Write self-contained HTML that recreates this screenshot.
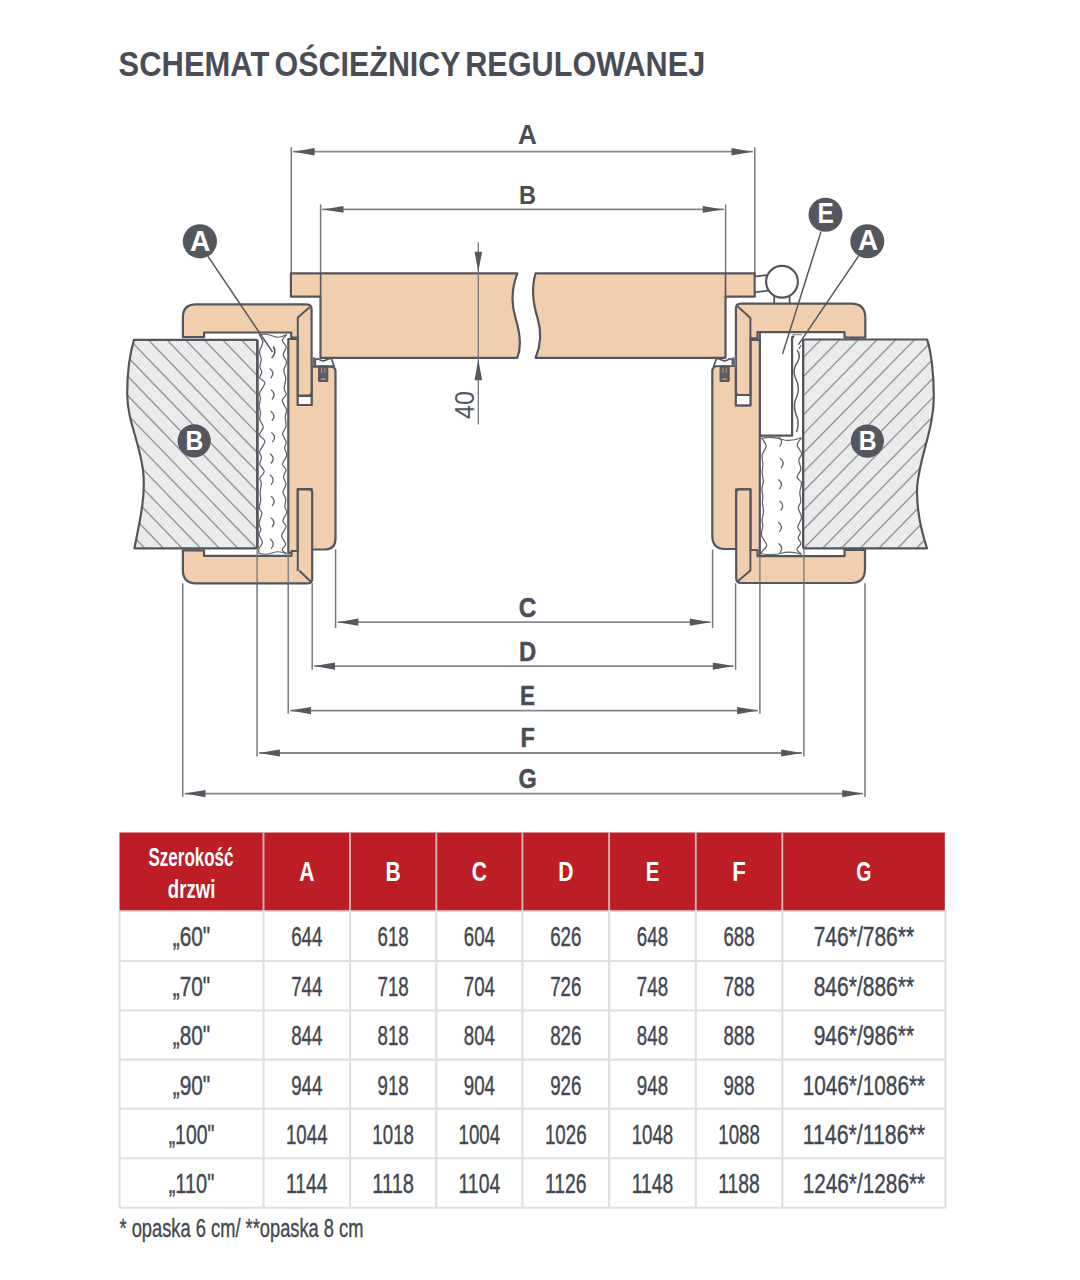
<!DOCTYPE html>
<html><head><meta charset="utf-8"><style>
html,body{margin:0;padding:0;background:#fff;}
body{width:1080px;height:1280px;overflow:hidden;}
svg{display:block;font-family:'Liberation Sans', sans-serif;}
</style></head><body>
<svg width="1080" height="1280" viewBox="0 0 1080 1280">
<text x="118.6" y="75.6" font-size="34.6" font-weight="bold" fill="#4a4d55" text-anchor="start" textLength="150.7" lengthAdjust="spacingAndGlyphs" >SCHEMAT</text>
<text x="274.6" y="75.6" font-size="34.6" font-weight="bold" fill="#4a4d55" text-anchor="start" textLength="186" lengthAdjust="spacingAndGlyphs" >OŚCIEŻNICY</text>
<text x="465.2" y="75.6" font-size="34.6" font-weight="bold" fill="#4a4d55" text-anchor="start" textLength="240" lengthAdjust="spacingAndGlyphs" >REGULOWANEJ</text>
<clipPath id="wl"><path d="M134,339.9 L257.4,339.9 L257.4,548.3 L134.4,548.3 C140,520 146,495 143,470 C139,440 127,420 127.2,392.9 C127.2,370 131,350 134,339.9 Z"/></clipPath>
<path d="M134,339.9 L257.4,339.9 L257.4,548.3 L134.4,548.3 C140,520 146,495 143,470 C139,440 127,420 127.2,392.9 C127.2,370 131,350 134,339.9 Z" fill="#EBEBEB"/>
<g clip-path="url(#wl)" stroke="#909398" stroke-width="1.35"><line x1="-233.16" y1="330" x2="-11.21" y2="560"/><line x1="-214.56" y1="330" x2="7.39" y2="560"/><line x1="-195.96" y1="330" x2="25.99" y2="560"/><line x1="-177.36" y1="330" x2="44.59" y2="560"/><line x1="-158.76" y1="330" x2="63.19" y2="560"/><line x1="-140.16" y1="330" x2="81.79" y2="560"/><line x1="-121.56" y1="330" x2="100.39" y2="560"/><line x1="-102.96" y1="330" x2="118.99" y2="560"/><line x1="-84.36" y1="330" x2="137.59" y2="560"/><line x1="-65.76" y1="330" x2="156.19" y2="560"/><line x1="-47.16" y1="330" x2="174.79" y2="560"/><line x1="-28.56" y1="330" x2="193.39" y2="560"/><line x1="-9.96" y1="330" x2="211.99" y2="560"/><line x1="8.64" y1="330" x2="230.59" y2="560"/><line x1="27.24" y1="330" x2="249.19" y2="560"/><line x1="45.84" y1="330" x2="267.79" y2="560"/><line x1="64.44" y1="330" x2="286.39" y2="560"/><line x1="83.04" y1="330" x2="304.99" y2="560"/><line x1="101.64" y1="330" x2="323.59" y2="560"/><line x1="120.24" y1="330" x2="342.19" y2="560"/><line x1="138.84" y1="330" x2="360.79" y2="560"/><line x1="157.44" y1="330" x2="379.39" y2="560"/><line x1="176.04" y1="330" x2="397.99" y2="560"/><line x1="194.64" y1="330" x2="416.59" y2="560"/><line x1="213.24" y1="330" x2="435.19" y2="560"/><line x1="231.84" y1="330" x2="453.79" y2="560"/><line x1="250.44" y1="330" x2="472.39" y2="560"/><line x1="269.04" y1="330" x2="490.99" y2="560"/><line x1="287.64" y1="330" x2="509.59" y2="560"/><line x1="306.24" y1="330" x2="528.19" y2="560"/><line x1="324.84" y1="330" x2="546.79" y2="560"/><line x1="343.44" y1="330" x2="565.39" y2="560"/><line x1="362.04" y1="330" x2="583.99" y2="560"/><line x1="380.64" y1="330" x2="602.59" y2="560"/><line x1="399.24" y1="330" x2="621.19" y2="560"/><line x1="417.84" y1="330" x2="639.79" y2="560"/><line x1="436.44" y1="330" x2="658.39" y2="560"/><line x1="455.04" y1="330" x2="676.99" y2="560"/><line x1="473.64" y1="330" x2="695.59" y2="560"/><line x1="492.24" y1="330" x2="714.19" y2="560"/><line x1="510.84" y1="330" x2="732.79" y2="560"/><line x1="529.44" y1="330" x2="751.39" y2="560"/><line x1="548.04" y1="330" x2="769.99" y2="560"/><line x1="566.64" y1="330" x2="788.59" y2="560"/><line x1="585.24" y1="330" x2="807.19" y2="560"/><line x1="603.84" y1="330" x2="825.79" y2="560"/><line x1="622.44" y1="330" x2="844.39" y2="560"/><line x1="641.04" y1="330" x2="862.99" y2="560"/><line x1="659.64" y1="330" x2="881.59" y2="560"/><line x1="678.24" y1="330" x2="900.19" y2="560"/></g>
<path d="M134,339.9 L257.4,339.9 L257.4,548.3 L134.4,548.3 C140,520 146,495 143,470 C139,440 127,420 127.2,392.9 C127.2,370 131,350 134,339.9 Z" fill="none" stroke="#53565c" stroke-width="2.2" stroke-linejoin="round"/>
<clipPath id="wr"><path d="M803.1,339.5 L927,339.5 C931,350 934,375 933.8,398 C933.5,430 920,455 917.2,486 C916,510 921,530 927,548.3 L803.1,548.3 Z"/></clipPath>
<path d="M803.1,339.5 L927,339.5 C931,350 934,375 933.8,398 C933.5,430 920,455 917.2,486 C916,510 921,530 927,548.3 L803.1,548.3 Z" fill="#EBEBEB"/>
<g clip-path="url(#wr)" stroke="#909398" stroke-width="1.35"><line x1="455.3" y1="330" x2="229.9" y2="560"/><line x1="474.05" y1="330" x2="248.65" y2="560"/><line x1="492.8" y1="330" x2="267.4" y2="560"/><line x1="511.55" y1="330" x2="286.15" y2="560"/><line x1="530.3" y1="330" x2="304.9" y2="560"/><line x1="549.05" y1="330" x2="323.65" y2="560"/><line x1="567.8" y1="330" x2="342.4" y2="560"/><line x1="586.55" y1="330" x2="361.15" y2="560"/><line x1="605.3" y1="330" x2="379.9" y2="560"/><line x1="624.05" y1="330" x2="398.65" y2="560"/><line x1="642.8" y1="330" x2="417.4" y2="560"/><line x1="661.55" y1="330" x2="436.15" y2="560"/><line x1="680.3" y1="330" x2="454.9" y2="560"/><line x1="699.05" y1="330" x2="473.65" y2="560"/><line x1="717.8" y1="330" x2="492.4" y2="560"/><line x1="736.55" y1="330" x2="511.15" y2="560"/><line x1="755.3" y1="330" x2="529.9" y2="560"/><line x1="774.05" y1="330" x2="548.65" y2="560"/><line x1="792.8" y1="330" x2="567.4" y2="560"/><line x1="811.55" y1="330" x2="586.15" y2="560"/><line x1="830.3" y1="330" x2="604.9" y2="560"/><line x1="849.05" y1="330" x2="623.65" y2="560"/><line x1="867.8" y1="330" x2="642.4" y2="560"/><line x1="886.55" y1="330" x2="661.15" y2="560"/><line x1="905.3" y1="330" x2="679.9" y2="560"/><line x1="924.05" y1="330" x2="698.65" y2="560"/><line x1="942.8" y1="330" x2="717.4" y2="560"/><line x1="961.55" y1="330" x2="736.15" y2="560"/><line x1="980.3" y1="330" x2="754.9" y2="560"/><line x1="999.05" y1="330" x2="773.65" y2="560"/><line x1="1017.8" y1="330" x2="792.4" y2="560"/><line x1="1036.55" y1="330" x2="811.15" y2="560"/><line x1="1055.3" y1="330" x2="829.9" y2="560"/><line x1="1074.05" y1="330" x2="848.65" y2="560"/><line x1="1092.8" y1="330" x2="867.4" y2="560"/><line x1="1111.55" y1="330" x2="886.15" y2="560"/><line x1="1130.3" y1="330" x2="904.9" y2="560"/><line x1="1149.05" y1="330" x2="923.65" y2="560"/><line x1="1167.8" y1="330" x2="942.4" y2="560"/><line x1="1186.55" y1="330" x2="961.15" y2="560"/><line x1="1205.3" y1="330" x2="979.9" y2="560"/><line x1="1224.05" y1="330" x2="998.65" y2="560"/><line x1="1242.8" y1="330" x2="1017.4" y2="560"/><line x1="1261.55" y1="330" x2="1036.15" y2="560"/><line x1="1280.3" y1="330" x2="1054.9" y2="560"/><line x1="1299.05" y1="330" x2="1073.65" y2="560"/><line x1="1317.8" y1="330" x2="1092.4" y2="560"/><line x1="1336.55" y1="330" x2="1111.15" y2="560"/><line x1="1355.3" y1="330" x2="1129.9" y2="560"/><line x1="1374.05" y1="330" x2="1148.65" y2="560"/></g>
<path d="M803.1,339.5 L927,339.5 C931,350 934,375 933.8,398 C933.5,430 920,455 917.2,486 C916,510 921,530 927,548.3 L803.1,548.3 Z" fill="none" stroke="#53565c" stroke-width="2.2" stroke-linejoin="round"/>
<rect x="257.4" y="332.5" width="30.9" height="223.3" fill="#fff"/>
<path d="M258.9,334.5 C259.57,335.71 262.82,338.95 262.92,341.76 C263.02,344.58 259.79,348.46 259.51,351.38 C259.23,354.31 261.17,356.74 261.23,359.32 C261.29,361.9 259.76,364.71 259.85,366.88 C259.94,369.05 261.79,370.53 261.77,372.35 C261.75,374.17 259.22,376.03 259.73,377.8 C260.24,379.58 264.84,380.51 264.82,383.01 C264.8,385.52 260.36,390.23 259.64,392.84 C258.91,395.44 260.55,396.39 260.47,398.62 C260.38,400.86 259.12,403.96 259.13,406.27 C259.14,408.57 260.4,410.22 260.54,412.48 C260.67,414.73 259.45,417.31 259.91,419.8 C260.37,422.28 263.36,424.88 263.28,427.39 C263.2,429.91 259.18,432.57 259.45,434.89 C259.72,437.2 264.84,438.55 264.89,441.28 C264.94,444.01 260.33,448.5 259.75,451.26 C259.17,454.02 261.42,455.67 261.43,457.84 C261.45,460.01 259.36,462.04 259.82,464.28 C260.28,466.52 264.19,468.96 264.21,471.28 C264.23,473.61 260.39,476.23 259.92,478.22 C259.44,480.2 261.32,480.79 261.34,483.22 C261.37,485.64 260.18,490.01 260.08,492.77 C259.97,495.53 260.87,497.23 260.73,499.76 C260.59,502.28 259.03,505.64 259.22,507.9 C259.42,510.17 261.93,510.8 261.9,513.34 C261.87,515.88 259.22,520.48 259.04,523.16 C258.87,525.84 260.84,527.47 260.85,529.39 C260.87,531.31 258.85,532.51 259.11,534.69 C259.37,536.87 262.42,540.2 262.41,542.49 C262.4,544.78 259.64,546.56 259.06,548.44 C258.47,550.33 258.93,552.91 258.9,553.8" fill="none" stroke="#5f6268" stroke-width="1.25"/>
<path d="M286.8,334.5 C286.05,335.48 282.42,338.31 282.32,340.41 C282.23,342.5 286.08,344.72 286.21,347.08 C286.35,349.44 283.09,352.09 283.14,354.55 C283.19,357.01 286.38,359.22 286.5,361.84 C286.61,364.47 283.96,367.49 283.84,370.3 C283.72,373.11 285.69,375.66 285.76,378.67 C285.83,381.69 284.19,385.74 284.24,388.39 C284.3,391.05 286.44,392.55 286.11,394.58 C285.78,396.61 282.18,398.03 282.25,400.59 C282.32,403.15 286.04,407.31 286.54,409.96 C287.04,412.6 285.37,413.72 285.27,416.45 C285.17,419.18 286.37,423.4 285.93,426.33 C285.49,429.26 282.6,431.47 282.63,434.02 C282.65,436.57 285.72,439.3 286.08,441.65 C286.44,444.01 284.69,445.85 284.78,448.17 C284.87,450.49 287.01,452.92 286.63,455.56 C286.24,458.19 282.57,461.61 282.46,463.98 C282.35,466.35 285.81,467.61 285.98,469.78 C286.14,471.94 283.47,474.53 283.47,476.96 C283.46,479.39 286.05,481.81 285.95,484.36 C285.86,486.92 282.92,489.87 282.9,492.31 C282.87,494.75 285.48,496.6 285.81,499 C286.15,501.41 284.75,504.48 284.9,506.73 C285.05,508.97 287.05,510.14 286.71,512.47 C286.36,514.8 282.96,518.33 282.85,520.71 C282.74,523.09 286.25,524.23 286.04,526.73 C285.84,529.23 281.69,532.79 281.62,535.69 C281.55,538.58 285.52,541.75 285.62,544.1 C285.71,546.44 282,548.14 282.2,549.76 C282.4,551.38 286.03,553.13 286.8,553.8" fill="none" stroke="#5f6268" stroke-width="1.25"/>
<path d="M259.4,335 Q266.67,333 272.85,336 T286.3,334.5" fill="none" stroke="#5f6268" stroke-width="1.1"/>
<path d="M259.4,553.3 Q266.67,555.3 272.85,552.8 T286.3,553.8" fill="none" stroke="#5f6268" stroke-width="1.1"/>
<path d="M270.06,368.8 Q275.06,372.8 271.06,377.8" fill="none" stroke="#5f6268" stroke-width="1.3" stroke-linecap="round"/>
<path d="M271.26,390.1 Q276.26,394.1 272.26,399.1" fill="none" stroke="#5f6268" stroke-width="1.3" stroke-linecap="round"/>
<path d="M271.15,411.4 Q276.15,415.4 272.15,420.4" fill="none" stroke="#5f6268" stroke-width="1.3" stroke-linecap="round"/>
<path d="M271.73,432.7 Q276.73,436.7 272.73,441.7" fill="none" stroke="#5f6268" stroke-width="1.3" stroke-linecap="round"/>
<path d="M270.39,454 Q275.39,458 271.39,463" fill="none" stroke="#5f6268" stroke-width="1.3" stroke-linecap="round"/>
<path d="M270.36,475.3 Q275.36,479.3 271.36,484.3" fill="none" stroke="#5f6268" stroke-width="1.3" stroke-linecap="round"/>
<path d="M271.32,496.6 Q276.32,500.6 272.32,505.6" fill="none" stroke="#5f6268" stroke-width="1.3" stroke-linecap="round"/>
<path d="M271.17,517.9 Q276.17,521.9 272.17,526.9" fill="none" stroke="#5f6268" stroke-width="1.3" stroke-linecap="round"/>
<path d="M270.46,539.2 Q275.46,543.2 271.46,548.2" fill="none" stroke="#5f6268" stroke-width="1.3" stroke-linecap="round"/>
<rect x="759.8" y="333" width="43.3" height="223" fill="#fff"/>
<rect x="759.8" y="435.7" width="43.3" height="120.5" fill="#fff"/>
<path d="M761.3,437.7 C762.11,439.05 765.99,442.97 766.14,445.81 C766.29,448.66 762.72,451.69 762.19,454.79 C761.65,457.89 762.95,461.58 762.93,464.4 C762.91,467.23 762.02,468.92 762.08,471.73 C762.14,474.54 763.33,478.43 763.31,481.23 C763.29,484.04 762.03,486.04 761.95,488.58 C761.88,491.12 762.78,494.12 762.86,496.45 C762.93,498.78 762.29,500.05 762.4,502.53 C762.51,505.02 763.58,508.39 763.52,511.36 C763.46,514.33 762.16,517.91 762.04,520.35 C761.92,522.78 762.89,523.48 762.81,525.98 C762.73,528.48 760.91,532.13 761.56,535.34 C762.21,538.55 766.66,542.52 766.73,545.25 C766.79,547.98 762.85,550.21 761.95,551.7 C761.04,553.19 761.41,553.78 761.3,554.2" fill="none" stroke="#5f6268" stroke-width="1.25"/>
<path d="M801.6,437.7 C800.86,438.93 797.14,442.46 797.14,445.07 C797.14,447.69 801.3,450.87 801.59,453.4 C801.87,455.94 798.98,457.62 798.87,460.28 C798.75,462.93 801.17,466.52 800.88,469.33 C800.59,472.14 797.04,474.87 797.12,477.12 C797.21,479.37 800.95,480.31 801.41,482.85 C801.86,485.39 799.94,489.27 799.84,492.38 C799.73,495.48 801.04,498.84 800.78,501.47 C800.52,504.1 798.15,505.51 798.28,508.16 C798.4,510.81 801.61,514.24 801.53,517.37 C801.45,520.5 797.99,524.44 797.81,526.94 C797.63,529.45 800.4,530.56 800.46,532.4 C800.53,534.24 798.13,536.09 798.2,537.96 C798.26,539.83 801.06,541.72 800.85,543.64 C800.65,545.55 796.84,547.69 796.96,549.45 C797.09,551.22 800.83,553.41 801.6,554.2" fill="none" stroke="#5f6268" stroke-width="1.25"/>
<path d="M761.8,438.2 Q772.79,436.2 781.45,439.2 T801.1,437.7" fill="none" stroke="#5f6268" stroke-width="1.1"/>
<path d="M761.8,553.7 Q772.79,555.7 781.45,553.2 T801.1,554.2" fill="none" stroke="#5f6268" stroke-width="1.1"/>
<path d="M778.9,437.2 Q783.9,441.2 779.9,446.2" fill="none" stroke="#5f6268" stroke-width="1.3" stroke-linecap="round"/>
<path d="M780.37,458.5 Q785.37,462.5 781.37,467.5" fill="none" stroke="#5f6268" stroke-width="1.3" stroke-linecap="round"/>
<path d="M778.7,479.8 Q783.7,483.8 779.7,488.8" fill="none" stroke="#5f6268" stroke-width="1.3" stroke-linecap="round"/>
<path d="M779.86,501.1 Q784.86,505.1 780.86,510.1" fill="none" stroke="#5f6268" stroke-width="1.3" stroke-linecap="round"/>
<path d="M778.62,522.4 Q783.62,526.4 779.62,531.4" fill="none" stroke="#5f6268" stroke-width="1.3" stroke-linecap="round"/>
<path d="M778.94,543.7 Q783.94,547.7 779.94,552.7" fill="none" stroke="#5f6268" stroke-width="1.3" stroke-linecap="round"/>
<rect x="792.1" y="332.1" width="11" height="104" fill="#fff"/>
<path d="M797,350 C800,354 800,358 797.5,362 C794.5,366 793,372 795.5,378 C798.5,384 799.5,390 797,396 C794,402 793.5,408 796,414 C798.5,420 799,426 796.5,432" fill="none" stroke="#5c5f65" stroke-width="1.5"/>
<path d="M801,345 L799,349" fill="none" stroke="#5f6268" stroke-width="1.2"/>
<rect x="759.8" y="333" width="32.3" height="102.7" fill="#fff"/>
<path d="M759.8,333 L759.8,435.7 L792.1,435.7 L792.1,338.5 Q792.1,336.3 794.3,336.3" fill="none" stroke="#53565c" stroke-width="2.2" stroke-linejoin="round"/>
<path d="M792.5,334.6 L802,334.6" stroke="#9a9ca1" stroke-width="1.3"/>
<line x1="257.4" y1="339.9" x2="257.4" y2="548.3" stroke="#53565c" stroke-width="2.2" />
<line x1="803.1" y1="339.5" x2="803.1" y2="548.3" stroke="#53565c" stroke-width="2.2" />
<line x1="291.3" y1="147.2" x2="291.3" y2="273.3" stroke="#75787d" stroke-width="1.5" />
<line x1="754.8" y1="147.2" x2="754.8" y2="273.3" stroke="#75787d" stroke-width="1.5" />
<line x1="293" y1="151.7" x2="753" y2="151.7" stroke="#86888d" stroke-width="1.8" />
<path d="M293.6,151.8 L314.6,148 L314.6,155.6 Z" fill="#55585e"/>
<path d="M752.5,151.8 L731.5,155.6 L731.5,148 Z" fill="#55585e"/>
<line x1="320.6" y1="204.4" x2="320.6" y2="296.7" stroke="#75787d" stroke-width="1.5" />
<line x1="725.6" y1="204.4" x2="725.6" y2="296.7" stroke="#75787d" stroke-width="1.5" />
<line x1="322" y1="209.4" x2="724" y2="209.4" stroke="#86888d" stroke-width="1.8" />
<path d="M323,209.4 L343.5,206 L343.5,212.8 Z" fill="#55585e"/>
<path d="M723.2,209.4 L702.7,212.8 L702.7,206 Z" fill="#55585e"/>
<text x="527.5" y="144.2" font-size="27" font-weight="bold" fill="#4a4d55" text-anchor="middle" textLength="18.8" lengthAdjust="spacingAndGlyphs" >A</text>
<text x="527.6" y="204" font-size="26.5" font-weight="bold" fill="#4a4d55" text-anchor="middle" textLength="17" lengthAdjust="spacingAndGlyphs" >B</text>
<line x1="335.6" y1="549.5" x2="335.6" y2="628.1" stroke="#75787d" stroke-width="1.5" />
<line x1="712.6" y1="549.5" x2="712.6" y2="628.1" stroke="#75787d" stroke-width="1.5" />
<line x1="337.6" y1="622.2" x2="710.6" y2="622.2" stroke="#86888d" stroke-width="1.8" />
<path d="M337.4,622.2 L358.4,618.6 L358.4,625.8 Z" fill="#55585e"/>
<path d="M710.8,622.2 L689.8,625.8 L689.8,618.6 Z" fill="#55585e"/>
<text x="527.6" y="617" font-size="27" font-weight="bold" fill="#4a4d55" text-anchor="middle" textLength="17.6" lengthAdjust="spacingAndGlyphs" stroke="#4a4d55" stroke-width="0.45">C</text>
<line x1="312.2" y1="583.3" x2="312.2" y2="669.8" stroke="#75787d" stroke-width="1.5" />
<line x1="735.6" y1="583.3" x2="735.6" y2="669.8" stroke="#75787d" stroke-width="1.5" />
<line x1="314.2" y1="666.1" x2="733.6" y2="666.1" stroke="#86888d" stroke-width="1.8" />
<path d="M314,666.1 L335,662.5 L335,669.7 Z" fill="#55585e"/>
<path d="M733.8,666.1 L712.8,669.7 L712.8,662.5 Z" fill="#55585e"/>
<text x="527.6" y="661.3" font-size="27" font-weight="bold" fill="#4a4d55" text-anchor="middle" textLength="17.2" lengthAdjust="spacingAndGlyphs" stroke="#4a4d55" stroke-width="0.45">D</text>
<line x1="288.2" y1="583.3" x2="288.2" y2="713.8" stroke="#75787d" stroke-width="1.5" />
<line x1="759.9" y1="583.3" x2="759.9" y2="713.8" stroke="#75787d" stroke-width="1.5" />
<line x1="290.2" y1="710.6" x2="757.9" y2="710.6" stroke="#86888d" stroke-width="1.8" />
<path d="M290,710.6 L311,707 L311,714.2 Z" fill="#55585e"/>
<path d="M758.1,710.6 L737.1,714.2 L737.1,707 Z" fill="#55585e"/>
<text x="527.6" y="705.2" font-size="27" font-weight="bold" fill="#4a4d55" text-anchor="middle" textLength="15" lengthAdjust="spacingAndGlyphs" stroke="#4a4d55" stroke-width="0.45">E</text>
<line x1="257.1" y1="583.3" x2="257.1" y2="756.4" stroke="#75787d" stroke-width="1.5" />
<line x1="803.9" y1="583.3" x2="803.9" y2="756.4" stroke="#75787d" stroke-width="1.5" />
<line x1="259.1" y1="753" x2="801.9" y2="753" stroke="#86888d" stroke-width="1.8" />
<path d="M258.9,753 L279.9,749.4 L279.9,756.6 Z" fill="#55585e"/>
<path d="M802.1,753 L781.1,756.6 L781.1,749.4 Z" fill="#55585e"/>
<text x="527.6" y="747.4" font-size="27" font-weight="bold" fill="#4a4d55" text-anchor="middle" textLength="14.4" lengthAdjust="spacingAndGlyphs" stroke="#4a4d55" stroke-width="0.45">F</text>
<line x1="182.7" y1="583.3" x2="182.7" y2="797" stroke="#75787d" stroke-width="1.5" />
<line x1="865" y1="583.3" x2="865" y2="797" stroke="#75787d" stroke-width="1.5" />
<line x1="184.7" y1="793.6" x2="863" y2="793.6" stroke="#86888d" stroke-width="1.8" />
<path d="M184.5,793.6 L205.5,790 L205.5,797.2 Z" fill="#55585e"/>
<path d="M863.2,793.6 L842.2,797.2 L842.2,790 Z" fill="#55585e"/>
<text x="527.6" y="788.4" font-size="27" font-weight="bold" fill="#4a4d55" text-anchor="middle" textLength="18.2" lengthAdjust="spacingAndGlyphs" stroke="#4a4d55" stroke-width="0.45">G</text>
<path d="M290.9,273.3 L517.3,273.3 C511,290 511.5,305 515.5,318 C519.5,331 522.5,345 517.3,357.8 L320.5,357.8 L320.5,296.7 L290.9,296.7 Z" fill="#F1CFAE" stroke="#53565c" stroke-width="2.2" stroke-linejoin="round"/>
<path d="M535.6,273.3 L754.8,273.3 L754.8,296.7 L725.5,296.7 L725.5,357.8 L535.6,357.8 C541,345 541.5,331 537.5,318 C533.5,305 530.5,290 535.6,273.3 Z" fill="#F1CFAE" stroke="#53565c" stroke-width="2.2" stroke-linejoin="round"/>
<line x1="320.6" y1="273.3" x2="320.6" y2="296.7" stroke="#53565c" stroke-width="1.6" />
<line x1="725.5" y1="273.3" x2="725.5" y2="296.7" stroke="#53565c" stroke-width="1.6" />
<path d="M754.8,276.6 L766.5,275.1 L768,290.6 L754.8,292.4 Z" fill="#fff" stroke="#53565c" stroke-width="1.8" stroke-linejoin="round"/>
<rect x="774.2" y="295" width="15.4" height="9" fill="#fff" stroke="#53565c" stroke-width="1.8"/>
<circle cx="782" cy="281.8" r="15.9" fill="#fff" stroke="#53565c" stroke-width="2.2"/>
<path d="M288.3,339 L297.8,339 L297.8,405 L311.6,405 L311.6,366.6 L330.5,366.6 Q335.5,366.6 335.5,371.6 L335.5,538.5 Q335.5,549.5 324.5,549.5 L311.6,549.5 L311.6,489 L297.8,489 L297.8,553 L288.3,553 Z" fill="#F1CFAE" stroke="#53565c" stroke-width="2.2" stroke-linejoin="round"/>
<path d="M182.9,337.2 L182.9,317.4 Q182.9,304.4 195.9,304.4 L306.6,304.4 Q311.6,304.4 311.6,309.4 L311.6,392.3 Q311.6,395.5 308.4,395.5 L297.8,395.5 L297.8,337.5 L291.2,337.5 L291.2,332.5 L204.1,332.5 L204.1,337.2 Z" fill="#F1CFAE" stroke="#53565c" stroke-width="2.2" stroke-linejoin="round"/>
<line x1="309.6" y1="307.2" x2="297.8" y2="317.5" stroke="#53565c" stroke-width="2" />
<line x1="297.8" y1="317" x2="297.8" y2="338" stroke="#53565c" stroke-width="2" />
<rect x="297.8" y="396" width="13.8" height="9" fill="#fff" stroke="#53565c" stroke-width="2"/>
<path d="M297.8,489.3 L309,489.3 Q312.2,489.3 312.2,492.5 L312.2,579 Q312.2,583.3 307.9,583.3 L195.9,583.3 Q182.9,583.3 182.9,570.3 L182.9,550.3 L204,550.3 L204,555.8 L291.5,555.8 L291.5,551 L297.8,551 Z" fill="#F1CFAE" stroke="#53565c" stroke-width="2.2" stroke-linejoin="round"/>
<line x1="299.3" y1="570.7" x2="310.8" y2="581.5" stroke="#53565c" stroke-width="2" />
<line x1="297.8" y1="551" x2="297.8" y2="571" stroke="#53565c" stroke-width="2" />
<rect x="311.6" y="357.4" width="4.2" height="8.8" fill="#707379"/><path d="M315.3,366.2 L315.3,361 Q315.5,358.4 318.5,358.9 Q321.5,361.8 325.5,360.3 Q329,358.2 331.2,358.3 L334.2,366.2 Z" fill="#fff" stroke="#53565c" stroke-width="1.7" stroke-linejoin="round"/><rect x="318.7" y="366.2" width="9" height="15.2" rx="1" fill="#5b5e64" stroke="#53565c" stroke-width="1.2"/><rect x="321" y="368" width="1" height="5" fill="#b8a48f"/><rect x="324.4" y="368" width="1" height="5" fill="#b8a48f"/><rect x="320.9" y="378.4" width="4.6" height="1.4" fill="#b8a48f"/>
<path d="M712.3,371.5 Q712.3,366 718.3,366 L735.9,366 L735.9,405.3 L750.4,405.3 L750.4,340 L759.8,340 L759.8,556 L750.4,556 L750.4,489.3 L736.2,489.3 L736.2,549 L725.3,549 Q712.3,549 712.3,536 Z" fill="#F1CFAE" stroke="#53565c" stroke-width="2.2" stroke-linejoin="round"/>
<path d="M865.3,337.6 L865.3,317.6 Q865.3,303.6 851.3,303.6 L740.9,303.6 Q735.9,303.6 735.9,308.6 L735.9,392 Q735.9,395 738.9,395 L750.4,395 L750.4,338.4 L757.5,338.4 L757.5,332.1 L844.5,332.1 L844.5,337.6 Z" fill="#F1CFAE" stroke="#53565c" stroke-width="2.2" stroke-linejoin="round"/>
<line x1="737.8" y1="306.5" x2="750.4" y2="318" stroke="#53565c" stroke-width="2" />
<line x1="750.4" y1="317.5" x2="750.4" y2="339" stroke="#53565c" stroke-width="2" />
<rect x="735.9" y="395" width="14.5" height="10.3" fill="#fff" stroke="#53565c" stroke-width="2"/>
<path d="M736.2,492.5 Q736.2,489.3 739.4,489.3 L750.4,489.3 L750.4,550 L757.5,550 L757.5,556.2 L844.5,556.2 L844.5,549.9 L865,549.9 L865,569 Q865,583 851,583 L741.2,583 Q736.2,583 736.2,578 Z" fill="#F1CFAE" stroke="#53565c" stroke-width="2.2" stroke-linejoin="round"/>
<line x1="737.8" y1="581.3" x2="750.4" y2="570.5" stroke="#53565c" stroke-width="2" />
<line x1="750.4" y1="550" x2="750.4" y2="571" stroke="#53565c" stroke-width="2" />
<rect x="732" y="357.4" width="4.2" height="8.8" fill="#707379"/><path d="M732.5,366.2 L732.5,361 Q732.3,358.4 729.3,358.9 Q726.3,361.8 722.3,360.3 Q718.8,358.2 716.6,358.3 L713.6,366.2 Z" fill="#fff" stroke="#53565c" stroke-width="1.7" stroke-linejoin="round"/><rect x="720.1" y="366.2" width="9" height="15.2" rx="1" fill="#5b5e64" stroke="#53565c" stroke-width="1.2"/><rect x="722.4" y="368" width="1" height="5" fill="#b8a48f"/><rect x="725.8" y="368" width="1" height="5" fill="#b8a48f"/><rect x="722.3" y="378.4" width="4.6" height="1.4" fill="#b8a48f"/>
<path d="M257.4,339.9 L257.4,548.3" stroke="#53565c" stroke-width="2.2"/>
<line x1="257.1" y1="548" x2="257.1" y2="583.3" stroke="#74777d" stroke-width="1.3" />
<line x1="288.2" y1="553" x2="288.2" y2="583.3" stroke="#74777d" stroke-width="1.3" />
<line x1="759.9" y1="556" x2="759.9" y2="583.3" stroke="#74777d" stroke-width="1.3" />
<line x1="803.9" y1="548" x2="803.9" y2="583.3" stroke="#74777d" stroke-width="1.3" />
<line x1="478.3" y1="242.2" x2="478.3" y2="424.5" stroke="#74777d" stroke-width="1.3" />
<path d="M478.3,271.8 L474.5,251.8 L482.1,251.8 Z" fill="#55585e"/>
<path d="M478.3,359.2 L482.1,380.2 L474.5,380.2 Z" fill="#55585e"/>
<text x="0" y="0" font-size="27" font-weight="normal" fill="#55585e" text-anchor="start" textLength="28" lengthAdjust="spacingAndGlyphs" transform="translate(473.6,419) rotate(-90)">40</text>
<line x1="208" y1="256.3" x2="272.6" y2="352.2" stroke="#53565c" stroke-width="1.5" />
<path d="M273.5,347 Q277,352 272,357.5" fill="none" stroke="#53565c" stroke-width="1.6" stroke-linecap="round"/>
<line x1="821" y1="231.6" x2="782.6" y2="353.9" stroke="#53565c" stroke-width="1.5" />
<line x1="858.5" y1="256.2" x2="798.4" y2="344.7" stroke="#53565c" stroke-width="1.5" />
<circle cx="199.9" cy="241.3" r="17.1" fill="#54575e"/>
<text x="200.1" y="250.6" font-size="29" font-weight="bold" fill="#fff" text-anchor="middle" textLength="20.4" lengthAdjust="spacingAndGlyphs" >A</text>
<circle cx="194.2" cy="440.8" r="16.6" fill="#54575e"/>
<text x="194.4" y="450.2" font-size="28.5" font-weight="bold" fill="#fff" text-anchor="middle" textLength="17.8" lengthAdjust="spacingAndGlyphs" >B</text>
<circle cx="825.5" cy="214.8" r="17" fill="#54575e"/>
<text x="825.7" y="222.8" font-size="29" font-weight="bold" fill="#fff" text-anchor="middle" textLength="16.3" lengthAdjust="spacingAndGlyphs" >E</text>
<circle cx="867.3" cy="241.3" r="17" fill="#54575e"/>
<text x="868.1" y="250.4" font-size="29" font-weight="bold" fill="#fff" text-anchor="middle" textLength="20.2" lengthAdjust="spacingAndGlyphs" >A</text>
<circle cx="867.4" cy="441.1" r="16.6" fill="#54575e"/>
<text x="867.6" y="450.4" font-size="28.5" font-weight="bold" fill="#fff" text-anchor="middle" textLength="17.8" lengthAdjust="spacingAndGlyphs" >B</text>
<rect x="119.5" y="832.5" width="825.3" height="78.0" fill="#BD1D24"/>
<line x1="119.5" y1="910.5" x2="119.5" y2="1207.7" stroke="#DEDFE1" stroke-width="2.1" />
<line x1="263.5" y1="910.5" x2="263.5" y2="1207.7" stroke="#DEDFE1" stroke-width="2.1" />
<line x1="350" y1="910.5" x2="350" y2="1207.7" stroke="#DEDFE1" stroke-width="2.1" />
<line x1="436.3" y1="910.5" x2="436.3" y2="1207.7" stroke="#DEDFE1" stroke-width="2.1" />
<line x1="522.4" y1="910.5" x2="522.4" y2="1207.7" stroke="#DEDFE1" stroke-width="2.1" />
<line x1="609.1" y1="910.5" x2="609.1" y2="1207.7" stroke="#DEDFE1" stroke-width="2.1" />
<line x1="695.8" y1="910.5" x2="695.8" y2="1207.7" stroke="#DEDFE1" stroke-width="2.1" />
<line x1="782.3" y1="910.5" x2="782.3" y2="1207.7" stroke="#DEDFE1" stroke-width="2.1" />
<line x1="945.5" y1="910.5" x2="945.5" y2="1207.7" stroke="#DEDFE1" stroke-width="2.1" />
<line x1="263.5" y1="832.5" x2="263.5" y2="910.5" stroke="#d3b3b4" stroke-width="1.9" />
<line x1="350" y1="832.5" x2="350" y2="910.5" stroke="#d3b3b4" stroke-width="1.9" />
<line x1="436.3" y1="832.5" x2="436.3" y2="910.5" stroke="#d3b3b4" stroke-width="1.9" />
<line x1="522.4" y1="832.5" x2="522.4" y2="910.5" stroke="#d3b3b4" stroke-width="1.9" />
<line x1="609.1" y1="832.5" x2="609.1" y2="910.5" stroke="#d3b3b4" stroke-width="1.9" />
<line x1="695.8" y1="832.5" x2="695.8" y2="910.5" stroke="#d3b3b4" stroke-width="1.9" />
<line x1="782.3" y1="832.5" x2="782.3" y2="910.5" stroke="#d3b3b4" stroke-width="1.9" />
<line x1="119.5" y1="961" x2="945.5" y2="961" stroke="#DEDFE1" stroke-width="2.1" />
<line x1="119.5" y1="1010.5" x2="945.5" y2="1010.5" stroke="#DEDFE1" stroke-width="2.1" />
<line x1="119.5" y1="1059.6" x2="945.5" y2="1059.6" stroke="#DEDFE1" stroke-width="2.1" />
<line x1="119.5" y1="1108.8" x2="945.5" y2="1108.8" stroke="#DEDFE1" stroke-width="2.1" />
<line x1="119.5" y1="1158.3" x2="945.5" y2="1158.3" stroke="#DEDFE1" stroke-width="2.1" />
<line x1="119.5" y1="1207.7" x2="945.5" y2="1207.7" stroke="#DEDFE1" stroke-width="2.1" />
<line x1="119.5" y1="911.3" x2="945.5" y2="911.3" stroke="#DEDFE1" stroke-width="1.2" />
<text x="306.75" y="881.3" font-size="28.3" font-weight="bold" fill="#fff" text-anchor="middle" textLength="15.2" lengthAdjust="spacingAndGlyphs" >A</text>
<text x="393.15" y="881.3" font-size="28.3" font-weight="bold" fill="#fff" text-anchor="middle" textLength="15.2" lengthAdjust="spacingAndGlyphs" >B</text>
<text x="479.35" y="881.3" font-size="28.3" font-weight="bold" fill="#fff" text-anchor="middle" textLength="15.2" lengthAdjust="spacingAndGlyphs" >C</text>
<text x="565.75" y="881.3" font-size="28.3" font-weight="bold" fill="#fff" text-anchor="middle" textLength="15.2" lengthAdjust="spacingAndGlyphs" >D</text>
<text x="652.45" y="881.3" font-size="28.3" font-weight="bold" fill="#fff" text-anchor="middle" textLength="13.6" lengthAdjust="spacingAndGlyphs" >E</text>
<text x="739.05" y="881.3" font-size="28.3" font-weight="bold" fill="#fff" text-anchor="middle" textLength="13.6" lengthAdjust="spacingAndGlyphs" >F</text>
<text x="863.9" y="881.3" font-size="28.3" font-weight="bold" fill="#fff" text-anchor="middle" textLength="15.2" lengthAdjust="spacingAndGlyphs" >G</text>
<text x="191" y="866.3" font-size="26" font-weight="bold" fill="#fff" text-anchor="middle" textLength="85" lengthAdjust="spacingAndGlyphs" >Szerokość</text>
<text x="191.6" y="897.6" font-size="26" font-weight="bold" fill="#fff" text-anchor="middle" textLength="47.5" lengthAdjust="spacingAndGlyphs" >drzwi</text>
<text x="191.5" y="946.05" font-size="27" font-weight="normal" fill="#434750" text-anchor="middle" textLength="37.5" lengthAdjust="spacingAndGlyphs" stroke="#434750" stroke-width="0.4">„60"</text>
<text x="306.75" y="946.05" font-size="27" font-weight="normal" fill="#434750" text-anchor="middle" textLength="31.2" lengthAdjust="spacingAndGlyphs" stroke="#434750" stroke-width="0.4">644</text>
<text x="393.15" y="946.05" font-size="27" font-weight="normal" fill="#434750" text-anchor="middle" textLength="31.2" lengthAdjust="spacingAndGlyphs" stroke="#434750" stroke-width="0.4">618</text>
<text x="479.35" y="946.05" font-size="27" font-weight="normal" fill="#434750" text-anchor="middle" textLength="31.2" lengthAdjust="spacingAndGlyphs" stroke="#434750" stroke-width="0.4">604</text>
<text x="565.75" y="946.05" font-size="27" font-weight="normal" fill="#434750" text-anchor="middle" textLength="31.2" lengthAdjust="spacingAndGlyphs" stroke="#434750" stroke-width="0.4">626</text>
<text x="652.45" y="946.05" font-size="27" font-weight="normal" fill="#434750" text-anchor="middle" textLength="31.2" lengthAdjust="spacingAndGlyphs" stroke="#434750" stroke-width="0.4">648</text>
<text x="739.05" y="946.05" font-size="27" font-weight="normal" fill="#434750" text-anchor="middle" textLength="31.2" lengthAdjust="spacingAndGlyphs" stroke="#434750" stroke-width="0.4">688</text>
<text x="863.9" y="946.05" font-size="27" font-weight="normal" fill="#434750" text-anchor="middle" textLength="100.5" lengthAdjust="spacingAndGlyphs" stroke="#434750" stroke-width="0.4">746*/786**</text>
<text x="191.5" y="996.05" font-size="27" font-weight="normal" fill="#434750" text-anchor="middle" textLength="37.5" lengthAdjust="spacingAndGlyphs" stroke="#434750" stroke-width="0.4">„70"</text>
<text x="306.75" y="996.05" font-size="27" font-weight="normal" fill="#434750" text-anchor="middle" textLength="31.2" lengthAdjust="spacingAndGlyphs" stroke="#434750" stroke-width="0.4">744</text>
<text x="393.15" y="996.05" font-size="27" font-weight="normal" fill="#434750" text-anchor="middle" textLength="31.2" lengthAdjust="spacingAndGlyphs" stroke="#434750" stroke-width="0.4">718</text>
<text x="479.35" y="996.05" font-size="27" font-weight="normal" fill="#434750" text-anchor="middle" textLength="31.2" lengthAdjust="spacingAndGlyphs" stroke="#434750" stroke-width="0.4">704</text>
<text x="565.75" y="996.05" font-size="27" font-weight="normal" fill="#434750" text-anchor="middle" textLength="31.2" lengthAdjust="spacingAndGlyphs" stroke="#434750" stroke-width="0.4">726</text>
<text x="652.45" y="996.05" font-size="27" font-weight="normal" fill="#434750" text-anchor="middle" textLength="31.2" lengthAdjust="spacingAndGlyphs" stroke="#434750" stroke-width="0.4">748</text>
<text x="739.05" y="996.05" font-size="27" font-weight="normal" fill="#434750" text-anchor="middle" textLength="31.2" lengthAdjust="spacingAndGlyphs" stroke="#434750" stroke-width="0.4">788</text>
<text x="863.9" y="996.05" font-size="27" font-weight="normal" fill="#434750" text-anchor="middle" textLength="100.5" lengthAdjust="spacingAndGlyphs" stroke="#434750" stroke-width="0.4">846*/886**</text>
<text x="191.5" y="1045.35" font-size="27" font-weight="normal" fill="#434750" text-anchor="middle" textLength="37.5" lengthAdjust="spacingAndGlyphs" stroke="#434750" stroke-width="0.4">„80"</text>
<text x="306.75" y="1045.35" font-size="27" font-weight="normal" fill="#434750" text-anchor="middle" textLength="31.2" lengthAdjust="spacingAndGlyphs" stroke="#434750" stroke-width="0.4">844</text>
<text x="393.15" y="1045.35" font-size="27" font-weight="normal" fill="#434750" text-anchor="middle" textLength="31.2" lengthAdjust="spacingAndGlyphs" stroke="#434750" stroke-width="0.4">818</text>
<text x="479.35" y="1045.35" font-size="27" font-weight="normal" fill="#434750" text-anchor="middle" textLength="31.2" lengthAdjust="spacingAndGlyphs" stroke="#434750" stroke-width="0.4">804</text>
<text x="565.75" y="1045.35" font-size="27" font-weight="normal" fill="#434750" text-anchor="middle" textLength="31.2" lengthAdjust="spacingAndGlyphs" stroke="#434750" stroke-width="0.4">826</text>
<text x="652.45" y="1045.35" font-size="27" font-weight="normal" fill="#434750" text-anchor="middle" textLength="31.2" lengthAdjust="spacingAndGlyphs" stroke="#434750" stroke-width="0.4">848</text>
<text x="739.05" y="1045.35" font-size="27" font-weight="normal" fill="#434750" text-anchor="middle" textLength="31.2" lengthAdjust="spacingAndGlyphs" stroke="#434750" stroke-width="0.4">888</text>
<text x="863.9" y="1045.35" font-size="27" font-weight="normal" fill="#434750" text-anchor="middle" textLength="100.5" lengthAdjust="spacingAndGlyphs" stroke="#434750" stroke-width="0.4">946*/986**</text>
<text x="191.5" y="1094.5" font-size="27" font-weight="normal" fill="#434750" text-anchor="middle" textLength="37.5" lengthAdjust="spacingAndGlyphs" stroke="#434750" stroke-width="0.4">„90"</text>
<text x="306.75" y="1094.5" font-size="27" font-weight="normal" fill="#434750" text-anchor="middle" textLength="31.2" lengthAdjust="spacingAndGlyphs" stroke="#434750" stroke-width="0.4">944</text>
<text x="393.15" y="1094.5" font-size="27" font-weight="normal" fill="#434750" text-anchor="middle" textLength="31.2" lengthAdjust="spacingAndGlyphs" stroke="#434750" stroke-width="0.4">918</text>
<text x="479.35" y="1094.5" font-size="27" font-weight="normal" fill="#434750" text-anchor="middle" textLength="31.2" lengthAdjust="spacingAndGlyphs" stroke="#434750" stroke-width="0.4">904</text>
<text x="565.75" y="1094.5" font-size="27" font-weight="normal" fill="#434750" text-anchor="middle" textLength="31.2" lengthAdjust="spacingAndGlyphs" stroke="#434750" stroke-width="0.4">926</text>
<text x="652.45" y="1094.5" font-size="27" font-weight="normal" fill="#434750" text-anchor="middle" textLength="31.2" lengthAdjust="spacingAndGlyphs" stroke="#434750" stroke-width="0.4">948</text>
<text x="739.05" y="1094.5" font-size="27" font-weight="normal" fill="#434750" text-anchor="middle" textLength="31.2" lengthAdjust="spacingAndGlyphs" stroke="#434750" stroke-width="0.4">988</text>
<text x="863.9" y="1094.5" font-size="27" font-weight="normal" fill="#434750" text-anchor="middle" textLength="122.5" lengthAdjust="spacingAndGlyphs" stroke="#434750" stroke-width="0.4">1046*/1086**</text>
<text x="191.5" y="1143.85" font-size="27" font-weight="normal" fill="#434750" text-anchor="middle" textLength="45.7" lengthAdjust="spacingAndGlyphs" stroke="#434750" stroke-width="0.4">„100"</text>
<text x="306.75" y="1143.85" font-size="27" font-weight="normal" fill="#434750" text-anchor="middle" textLength="41.6" lengthAdjust="spacingAndGlyphs" stroke="#434750" stroke-width="0.4">1044</text>
<text x="393.15" y="1143.85" font-size="27" font-weight="normal" fill="#434750" text-anchor="middle" textLength="41.6" lengthAdjust="spacingAndGlyphs" stroke="#434750" stroke-width="0.4">1018</text>
<text x="479.35" y="1143.85" font-size="27" font-weight="normal" fill="#434750" text-anchor="middle" textLength="41.6" lengthAdjust="spacingAndGlyphs" stroke="#434750" stroke-width="0.4">1004</text>
<text x="565.75" y="1143.85" font-size="27" font-weight="normal" fill="#434750" text-anchor="middle" textLength="41.6" lengthAdjust="spacingAndGlyphs" stroke="#434750" stroke-width="0.4">1026</text>
<text x="652.45" y="1143.85" font-size="27" font-weight="normal" fill="#434750" text-anchor="middle" textLength="41.6" lengthAdjust="spacingAndGlyphs" stroke="#434750" stroke-width="0.4">1048</text>
<text x="739.05" y="1143.85" font-size="27" font-weight="normal" fill="#434750" text-anchor="middle" textLength="41.6" lengthAdjust="spacingAndGlyphs" stroke="#434750" stroke-width="0.4">1088</text>
<text x="863.9" y="1143.85" font-size="27" font-weight="normal" fill="#434750" text-anchor="middle" textLength="122.5" lengthAdjust="spacingAndGlyphs" stroke="#434750" stroke-width="0.4">1146*/1186**</text>
<text x="191.5" y="1193.3" font-size="27" font-weight="normal" fill="#434750" text-anchor="middle" textLength="45.7" lengthAdjust="spacingAndGlyphs" stroke="#434750" stroke-width="0.4">„110"</text>
<text x="306.75" y="1193.3" font-size="27" font-weight="normal" fill="#434750" text-anchor="middle" textLength="41.6" lengthAdjust="spacingAndGlyphs" stroke="#434750" stroke-width="0.4">1144</text>
<text x="393.15" y="1193.3" font-size="27" font-weight="normal" fill="#434750" text-anchor="middle" textLength="41.6" lengthAdjust="spacingAndGlyphs" stroke="#434750" stroke-width="0.4">1118</text>
<text x="479.35" y="1193.3" font-size="27" font-weight="normal" fill="#434750" text-anchor="middle" textLength="41.6" lengthAdjust="spacingAndGlyphs" stroke="#434750" stroke-width="0.4">1104</text>
<text x="565.75" y="1193.3" font-size="27" font-weight="normal" fill="#434750" text-anchor="middle" textLength="41.6" lengthAdjust="spacingAndGlyphs" stroke="#434750" stroke-width="0.4">1126</text>
<text x="652.45" y="1193.3" font-size="27" font-weight="normal" fill="#434750" text-anchor="middle" textLength="41.6" lengthAdjust="spacingAndGlyphs" stroke="#434750" stroke-width="0.4">1148</text>
<text x="739.05" y="1193.3" font-size="27" font-weight="normal" fill="#434750" text-anchor="middle" textLength="41.6" lengthAdjust="spacingAndGlyphs" stroke="#434750" stroke-width="0.4">1188</text>
<text x="863.9" y="1193.3" font-size="27" font-weight="normal" fill="#434750" text-anchor="middle" textLength="122.5" lengthAdjust="spacingAndGlyphs" stroke="#434750" stroke-width="0.4">1246*/1286**</text>
<text x="119.5" y="1237" font-size="25.5" font-weight="normal" fill="#434750" text-anchor="start" textLength="244" lengthAdjust="spacingAndGlyphs" stroke="#434750" stroke-width="0.35">* opaska 6 cm/ **opaska 8 cm</text>
</svg>
</body></html>
